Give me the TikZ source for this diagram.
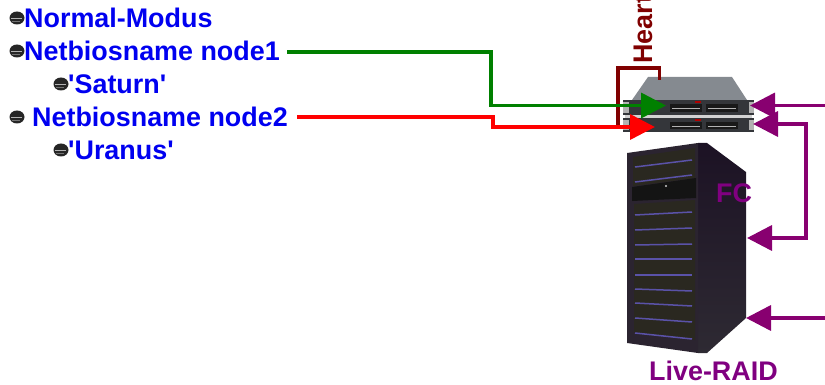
\documentclass[tikz,border=0pt]{standalone}
\usepackage{fontspec}
\setmainfont[Ligatures=TeXOff]{Liberation Sans}
\usetikzlibrary{arrows.meta,shapes.geometric}
\definecolor{linkpurple}{HTML}{880070}
\definecolor{labelpurple}{HTML}{800080}
\definecolor{hbred}{HTML}{800000}
\definecolor{nodegreen}{HTML}{008000}
\definecolor{textblue}{HTML}{0000F0}
\definecolor{bayfill}{HTML}{2A2820}
\definecolor{cabfront}{HTML}{2B2430}
\definecolor{cabside}{HTML}{1C1224}
\definecolor{cabsidelow}{HTML}{2E2A33}
\definecolor{riserblue}{HTML}{5A52A8}
\definecolor{servertop}{HTML}{858A90}
\definecolor{serverfront}{HTML}{34363A}
\tikzset{
  x=1pt,y=-1pt,
  listtext/.style={anchor=base west,inner sep=0pt,text=textblue,font=\fontsize{26.9}{26.9}\selectfont\bfseries},
  purpletext/.style={anchor=base west,inner sep=0pt,text=labelpurple,font=\fontsize{26.9}{26.9}\selectfont\bfseries},
  link/.style={line width=3.6pt,line join=miter,-{Triangle[length=25pt,width=25pt]}},
  marker/.style={ellipse,minimum width=15pt,minimum height=13pt,inner sep=0pt,fill=black!85,draw=none},
  bay/.style={fill=bayfill,draw=none},
  riser/.style={draw=riserblue,line width=1.5pt},
}
\newcommand{\listmarker}[3]{%
  \node[marker] (#1) at (#2,#3) {};
  \draw[draw=white!70!black,line width=1.6pt] (#2-6,#3+0.5) -- (#2+5,#3+0.5);
  \draw[draw=white!45!black,line width=1.5pt] (#2-5,#3+3.5) -- (#2+3,#3+3.5);
}
\newcommand{\serverunit}[2]{%
  \fill[serverfront] (623,#1) rectangle (754,#2);
  \fill[gray!60] (623,#1+2) rectangle (629,#2-2);
  \fill[gray!60] (749,#1+2) rectangle (754,#2-2);
  \fill[black!90] (670,#1+4) rectangle (702,#2-3);
  \fill[black!90] (706,#1+4) rectangle (738,#2-3);
  \draw[gray!60,line width=.8pt] (672,#1+8) -- (700,#1+8) (708,#1+8) -- (736,#1+8);
  \fill[red!70!black] (695,#1+1) rectangle (701,#1+3);
}
\begin{document}
\begin{tikzpicture}
\useasboundingbox (0,0) rectangle (825,385);
\clip (0,0) rectangle (825,385);
% server
\fill[servertop] (648,77) -- (732,77) -- (747,100) -- (632,100) -- cycle;
\fill[gray!35] (625,115) rectangle (752,118);
\serverunit{100}{115}
\serverunit{118}{132}
% storage cabinet
\shade[top color=cabside,bottom color=cabsidelow] (698,143) -- (707,143) -- (746,172) -- (746,318) -- (707,353) -- (698,353) -- cycle;
\fill[cabfront] (627,153) -- (698,143) -- (698,353) -- (627,343) -- cycle;
\fill[bay] (633,157) -- (695,148) -- (695,178) -- (633,186) -- cycle;
\fill[black!92] (632,187) -- (696,178) -- (696,198) -- (632,201) -- cycle;
\fill[white!80!black] (666,186) circle (1.2);
\fill[bay] (634,204) -- (695,200) -- (695,340) -- (634,332) -- cycle;
\draw[riser] (635,167) -- (692,160);
\draw[riser] (635,182) -- (692,175);
\draw[riser] (635,215) -- (692,212);
\draw[riser] (635,230) -- (692,228);
\draw[riser] (635,245) -- (692,244);
\draw[riser] (635,259) -- (692,259);
\draw[riser] (635,275) -- (692,275);
\draw[riser] (635,289) -- (692,291);
\draw[riser] (635,303) -- (692,306);
\draw[riser] (635,318) -- (692,322);
\draw[riser] (635,333) -- (692,339);
% list
\listmarker{m1}{17}{18}
\node[listtext] (t1) at (24,27.8) {Normal-Modus};
\listmarker{m2}{17}{51}
\node[listtext] (t2) at (24,60.2) {Netbiosname node1};
\listmarker{m3}{61}{84}
\node[listtext] (t3) at (68,93.2) {'Saturn'};
\listmarker{m4}{17}{117}
\node[listtext] (t4) at (32,126.8) {Netbiosname node2};
\listmarker{m5}{61}{150}
\node[listtext] (t5) at (68,159.2) {'Uranus'};
% labels
\node[purpletext] (fc) at (716,202) {FC};
\node[purpletext] (raid) at (649,380) {Live-RAID};
\node[anchor=base west,inner sep=0pt,rotate=90,text=hbred,font=\fontsize{26.9}{26.9}\selectfont\bfseries] (hb) at (652,64) {Heart};
% connector ends
\coordinate (g0) at (287,52);
\coordinate (g1) at (491,52);
\coordinate (g2) at (491,105.5);
\coordinate (g3) at (666,105.5);
\coordinate (r0) at (297,117);
\coordinate (r1) at (493,117);
\coordinate (r2) at (493,127);
\coordinate (r3) at (655,127);
\coordinate (hb0) at (659.5,80);
\coordinate (hb1) at (659.5,68);
\coordinate (hb2) at (618,68);
\coordinate (hb3) at (618,127);
\coordinate (p0) at (825,105.5);
\coordinate (p1) at (750,105.5);
\coordinate (q0) at (753,124);
\coordinate (q1) at (806,124);
\coordinate (q2) at (806,238);
\coordinate (q3) at (747,238);
\coordinate (s0) at (825,318);
\coordinate (s1) at (746,318);
% connectors
\draw[hbred,line width=3.6pt,line join=miter] (hb0) -- (hb1) -- (hb2) -- (hb3);
\draw[link,nodegreen] (g0) -- (g1) -- (g2) -- (g3);
\draw[link,red] (r0) -- (r1) -- (r2) -- (r3);
\draw[link,linkpurple] (p0) -- (p1);
\draw[link,linkpurple,{Triangle[length=25pt,width=25pt]}-{Triangle[length=25pt,width=25pt]}] (q0) -- (q1) -- (q2) -- (q3);
\draw[link,linkpurple] (s0) -- (s1);
\end{tikzpicture}
\end{document}
